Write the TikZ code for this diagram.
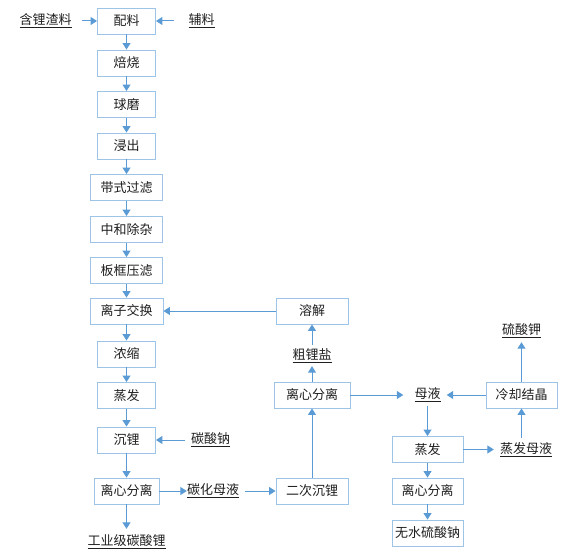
\documentclass[tikz,border=0pt]{standalone}
\usepackage{fontspec}
\usepackage{xcolor}
\usepackage{tikz}
\usetikzlibrary{arrows.meta, calc}

\newfontfamily\cnfont{Noto Sans CJK SC}

\definecolor{boxline}{HTML}{9DC3E6}
\definecolor{flowblue}{HTML}{5B9BD5}
\definecolor{inktext}{HTML}{1F1F1F}

\tikzset{
  stage/.style={draw=boxline, line width=0.9pt, minimum height=26pt, inner sep=0pt,
                text=inktext, font=\cnfont\fontsize{13}{15}\selectfont},
  feed/.style={inner sep=2pt, text=inktext, font=\cnfont\fontsize{13}{15}\selectfont},
  flow/.style={draw=flowblue, line width=1pt, -{Triangle[length=6.5pt,width=8pt]}}
}

\begin{document}
\begin{tikzpicture}[x=1pt, y=-1pt]

%%Paramaters
%% column x and row y, can be modified
\def\mainX{ 126.5 }
\def\midX{ 312 }
\def\rightX{ 427.5 }
\def\liqY{ 395 }

\useasboundingbox (0,0) rectangle (585,553);

    %% main column
    \node[stage, minimum width=58pt] at (\mainX, 21.0) (mix) {配料};
    \node[stage, minimum width=58pt] at (\mainX, 63.0) (roast) {焙烧};
    \node[stage, minimum width=58pt] at (\mainX, 104.5) (mill) {球磨};
    \node[stage, minimum width=58pt] at (\mainX, 146.0) (leach) {浸出};
    \node[stage, minimum width=72pt] at (\mainX, 187.5) (beltf) {带式过滤};
    \node[stage, minimum width=72pt] at (\mainX, 229.5) (neut) {中和除杂};
    \node[stage, minimum width=72pt] at (\mainX, 270.5) (pressf) {板框压滤};
    \node[stage, minimum width=73pt] at (\mainX, 311.0) (ionx) {离子交换};
    \node[stage, minimum width=58pt] at (\mainX, 354.0) (conc) {浓缩};
    \node[stage, minimum width=58pt] at (\mainX, 395.5) (evapA) {蒸发};
    \node[stage, minimum width=58pt] at (\mainX, 440.0) (precA) {沉锂};
    \node[stage, minimum width=65pt] at (\mainX, 491.0) (sepA) {离心分离};
    \node[feed] at (\mainX, 542.0) (lico) {\underline{工业级碳酸锂}};

    %% feeds
    \node[feed] at (45.5, 21.0) (slag) {\underline{含锂渣料}};
    \node[feed] at (201.5, 21.0) (aux) {\underline{辅料}};
    \node[feed] at (210.5, 440.0) (naco) {\underline{碳酸钠}};
    \node[feed] at (213.0, 491.0) (carbliq) {\underline{碳化母液}};

    %% second precipitation loop
    \node[stage, minimum width=72pt] at (\midX, 491.0) (precB) {二次沉锂};
    \node[stage, minimum width=76pt] at (\midX, \liqY) (sepB) {离心分离};
    \node[feed] at (\midX, 356.0) (crude) {\underline{粗锂盐}};
    \node[stage, minimum width=72pt] at (\midX, 311.0) (dissolve) {溶解};

    %% mother liquor branch
    \node[feed] at (\rightX, \liqY) (mother) {\underline{母液}};
    \node[stage, minimum width=71pt] at (521.5, \liqY) (cool) {冷却结晶};
    \node[feed] at (521.5, 331.0) (kso) {\underline{硫酸钾}};
    \node[stage, minimum width=71pt] at (\rightX, 449.5) (evapB) {蒸发};
    \node[feed] at (526.0, 449.5) (evliq) {\underline{蒸发母液}};
    \node[stage, minimum width=71pt] at (\rightX, 491.0) (sepC) {离心分离};
    \node[stage, minimum width=71pt] at (\rightX, 533.0) (sodium) {无水硫酸钠};

    %% connectors
    \draw[flow, shorten <=8pt] (slag) -- (mix);
    \draw[flow, shorten <=12pt] (aux) -- (mix);
    \draw[flow] (mix) -- (roast);
    \draw[flow] (roast) -- (mill);
    \draw[flow] (mill) -- (leach);
    \draw[flow] (leach) -- (beltf);
    \draw[flow] (beltf) -- (neut);
    \draw[flow] (neut) -- (pressf);
    \draw[flow] (pressf) -- (ionx);
    \draw[flow] (ionx) -- (conc);
    \draw[flow] (conc) -- (evapA);
    \draw[flow] (evapA) -- (precA);
    \draw[flow, shorten <=4pt] (naco) -- (precA);
    \draw[flow] (precA) -- (sepA);
    \draw[flow, shorten >=4pt] (sepA) -- (lico);
    \draw[flow, shorten >=-2pt] (sepA) -- (carbliq);
    \draw[flow, shorten <=4pt] (carbliq) -- (precB);
    \draw[flow] (precB) -- (sepB);
    \draw[flow, shorten >=1pt] (sepB) -- (crude);
    \draw[flow, shorten <=2pt] (crude) -- (dissolve);
    \draw[flow] (dissolve) -- (ionx);
    \draw[flow, shorten >=9pt] (sepB) -- (mother);
    \draw[flow, shorten >=4pt] (cool) -- (mother);
    \draw[flow, shorten >=2pt] (cool) -- (kso);
    \draw[flow, shorten <=2pt] (mother) -- (evapB);
    \draw[flow, shorten >=4pt] (evapB) -- (evliq);
    \draw[flow, shorten <=2pt] (evliq.north -| cool) -- (cool);
    \draw[flow] (evapB) -- (sepC);
    \draw[flow] (sepC) -- (sodium);

\end{tikzpicture}
\end{document}
